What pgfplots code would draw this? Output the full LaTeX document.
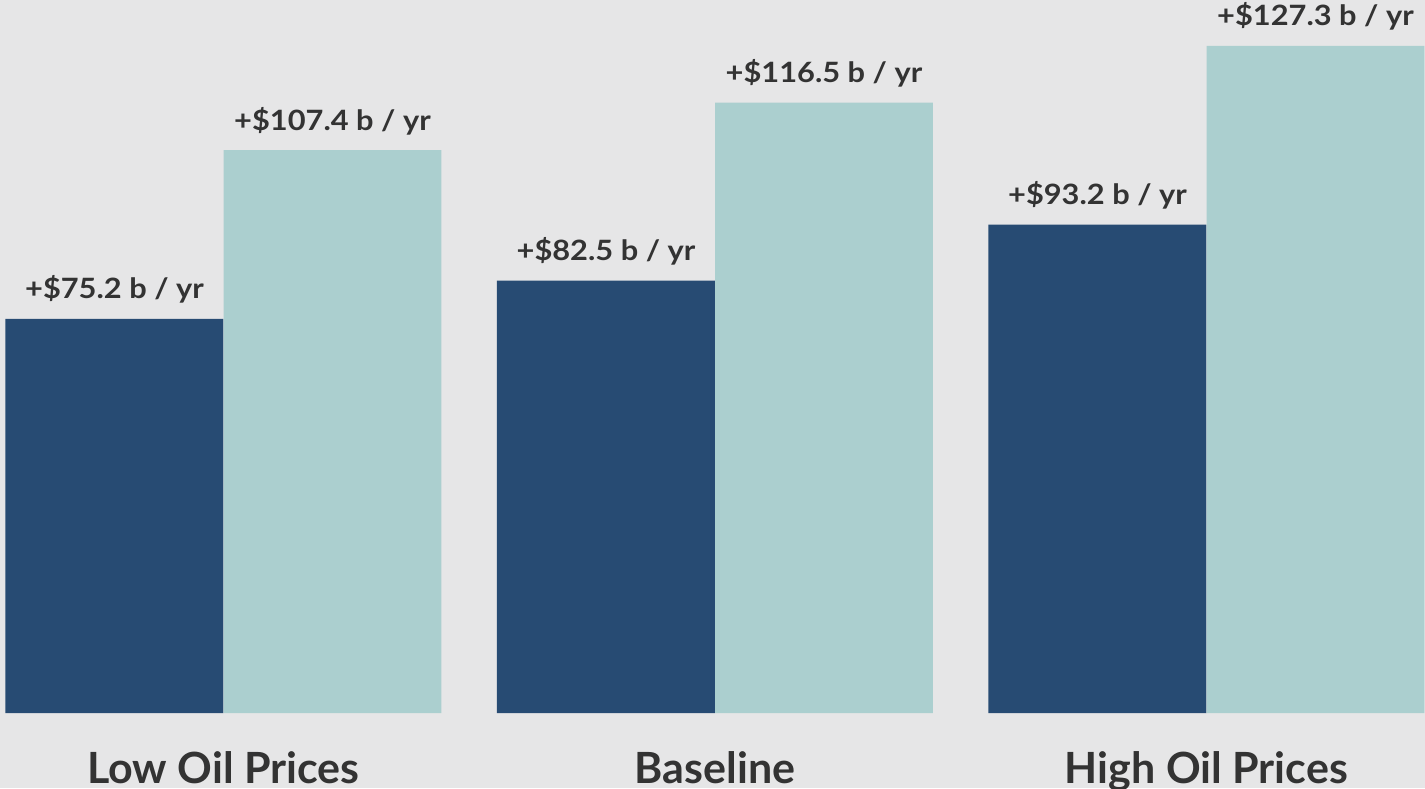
\documentclass[border=0pt]{standalone}
\usepackage{pgfplots}
\pgfplotsset{compat=1.18}
\usepackage{fontspec}
\setmainfont{Lato}
\definecolor{bg}{HTML}{E6E6E7}
\definecolor{navy}{HTML}{274B73}
\definecolor{tealc}{HTML}{ABCFCF}
\definecolor{txt}{HTML}{333333}
\begin{document}
\begin{tikzpicture}[x=1pt,y=1pt]
\fill[bg] (0,-37.5) rectangle (712.5,356.5);
\begin{axis}[
  at={(0,0)}, anchor=south west,
  scale only axis, width=712.5pt, height=356.5pt,
  xmin=-0.4547, xmax=2.4446, ymin=0, ymax=136.07,
  axis lines=left, axis line style={draw=none},
  ytick=\empty, xtick={0,1,2},
  xticklabels={Low Oil Prices, Baseline, High Oil Prices},
  major tick length=0pt,
  /pgf/number format/assume math mode=true,
  xticklabel style={anchor=base, yshift=-35pt, text=txt,
    font=\fontsize{21.5}{24}\selectfont\bfseries},
  every node near coord/.append style={anchor=base, yshift=10pt, text=txt,
    xscale=1.1, font=\fontsize{14}{16}\selectfont\bfseries},
  nodes near coords={+\$\pgfmathprintnumber[fixed,fixed zerofill,precision=1,assume math mode=true]{\pgfplotspointmeta} b / yr},
]
% bars plotted at their own centres: group index -/+ 0.2218
\addplot[ybar, bar width=0.4435, bar shift=0, fill=navy, draw=none]
  coordinates {(-0.2218,75.2) (0.7782,82.5) (1.7782,93.2)};
\addplot[ybar, bar width=0.4435, bar shift=0, fill=tealc, draw=none]
  coordinates {(0.2218,107.4) (1.2218,116.5) (2.2218,127.3)};
\end{axis}
\pgfresetboundingbox
\useasboundingbox (0,-37.5) rectangle (712.5,356.5);
\end{tikzpicture}
\end{document}
